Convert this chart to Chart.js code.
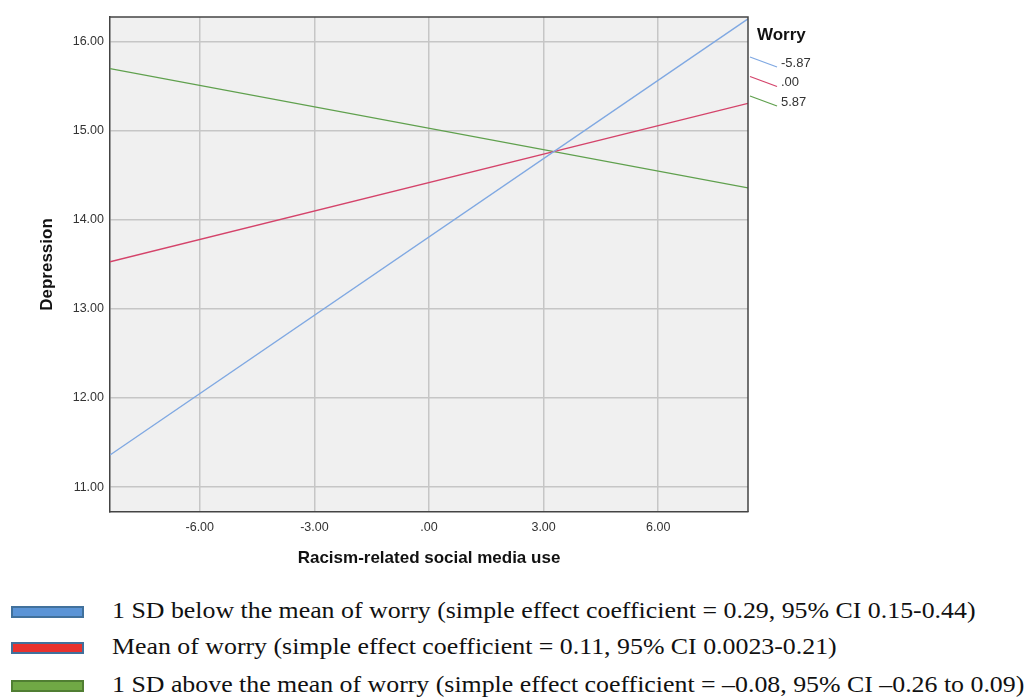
<!DOCTYPE html>
<html>
<head>
<meta charset="utf-8">
<script src="https://cdn.jsdelivr.net/npm/chart.js@4.4.1/dist/chart.umd.min.js"></script>
<style>
  html, body { margin: 0; padding: 0; background: #fff; }
  body { width: 1029px; height: 697px; position: relative; overflow: hidden; }
  #wrap { position: absolute; left: 0; top: 0; width: 1029px; height: 580px; }
  .key { position: absolute; left: 0; font-family: "Liberation Serif", "Times New Roman", serif; font-size: 24px; color: #111; white-space: nowrap; }
  .key .sw { position: absolute; left: 11px; width: 69px; height: 8px; border: 2px solid #41719c; }
  .key .txt { position: absolute; left: 112px; top: -15px; transform: scaleX(1.077); transform-origin: left center; }
</style>
</head>
<body>
<div id="wrap"><canvas id="chart" width="1029" height="580"></canvas></div>
<div id="keys"></div>
<script>
// x range of the fitted lines (racism-related social media use)
const xRange = [-8.35, 8.35];
// predicted depression at each end of the x range, one array per worry level
const lowWorry = [11.36, 16.26];
const meanWorry = [13.53, 15.31];
const highWorry = [15.70, 14.36];
const worryLevels = ['-5.87', '.00', '5.87'];
const lineColors = ['#7fa8e2', '#d4436a', '#5fa04d'];
const xTicks = [-6, -3, 0, 3, 6];
const yTicks = [11, 12, 13, 14, 15, 16];
const yRange = [10.72, 16.28];

const keyTexts = [
    '1 SD below the mean of worry (simple effect coefficient = 0.29, 95% CI 0.15-0.44)',
    'Mean of worry (simple effect coefficient = 0.11, 95% CI 0.0023-0.21)',
    '1 SD above the mean of worry (simple effect coefficient = \u20130.08, 95% CI \u20130.26 to 0.09)'
];
const keyFills = ['#5b94d6', '#e8322e', '#70a845'];
const keyBorders = ['#41719c', '#41719c', '#507e32'];

function fmt(v) {
    return v === 0 ? '.00' : v.toFixed(2);
}

// Plot background + top/right frame
const plotFrame = {
    id: 'plotFrame',
    beforeDraw(chart) {
        const a = chart.chartArea, c = chart.ctx;
        c.save();
        c.fillStyle = '#f0f0f0';
        c.fillRect(a.left, a.top, a.right - a.left, a.bottom - a.top);
        c.restore();
    },
    afterDatasetsDraw(chart) {
        const a = chart.chartArea, c = chart.ctx;
        c.save();
        c.strokeStyle = '#444';
        c.lineWidth = 1.5;
        c.beginPath();
        c.moveTo(a.left, a.top);
        c.lineTo(a.right, a.top);
        c.lineTo(a.right, a.bottom);
        c.stroke();
        c.restore();
    }
};

// SPSS-style legend to the right of the plot
const worryLegend = {
    id: 'worryLegend',
    afterDraw(chart) {
        const a = chart.chartArea, c = chart.ctx;
        const x0 = a.right + 2;
        c.save();
        c.fillStyle = '#111';
        c.font = 'bold 17px "Liberation Sans", Arial, sans-serif';
        c.textBaseline = 'middle';
        c.fillText('Worry', x0 + 7, 35);
        c.font = '13px "Liberation Sans", Arial, sans-serif';
        chart.data.datasets.forEach((ds, i) => {
            const y = 62 + i * 19.5;
            c.strokeStyle = ds.borderColor;
            c.lineWidth = 1.3;
            c.beginPath();
            c.moveTo(x0, y - 5);
            c.lineTo(x0 + 27, y + 5);
            c.stroke();
            c.fillStyle = '#333';
            c.fillText(ds.label, x0 + 31, y + 1);
        });
        c.restore();
    }
};

const series = [lowWorry, meanWorry, highWorry];

new Chart(document.getElementById('chart'), {
    type: 'line',
    data: {
        datasets: series.map((vals, i) => ({
            label: worryLevels[i],
            data: vals.map((v, j) => ({ x: xRange[j], y: v })),
            borderColor: lineColors[i],
            borderWidth: 1.4,
            pointRadius: 0,
            fill: false,
            tension: 0
        }))
    },
    options: {
        responsive: false,
        animation: false,
        layout: { padding: { left: 0, right: 281, top: 17, bottom: 0 } },
        plugins: {
            legend: { display: false },
            tooltip: { enabled: false }
        },
        scales: {
            x: {
                type: 'linear',
                min: xRange[0],
                max: xRange[1],
                afterBuildTicks: axis => { axis.ticks = xTicks.map(v => ({ value: v })); },
                afterFit: axis => { axis.height = 68; },
                grid: { color: '#c6c6c6', lineWidth: 1.5, drawTicks: false },
                border: { display: true, color: '#444', width: 1.5 },
                ticks: {
                    color: '#333',
                    padding: 8,
                    maxRotation: 0,
                    font: { family: '"Liberation Sans", Arial, sans-serif', size: 12.5 },
                    callback: v => fmt(v)
                },
                title: {
                    display: true,
                    text: 'Racism-related social media use',
                    color: '#111',
                    font: { family: '"Liberation Sans", Arial, sans-serif', size: 17, weight: 'bold' },
                    padding: { top: 0, bottom: 11 }
                }
            },
            y: {
                min: yRange[0],
                max: yRange[1],
                afterBuildTicks: axis => { axis.ticks = yTicks.map(v => ({ value: v })); },
                afterFit: axis => { axis.width = 110; },
                grid: { color: '#c6c6c6', lineWidth: 1.5, drawTicks: false },
                border: { display: true, color: '#444', width: 1.5 },
                ticks: {
                    color: '#333',
                    padding: 6,
                    font: { family: '"Liberation Sans", Arial, sans-serif', size: 12.5 },
                    callback: v => fmt(v)
                },
                title: {
                    display: true,
                    text: 'Depression',
                    color: '#111',
                    font: { family: '"Liberation Sans", Arial, sans-serif', size: 17, weight: 'bold' },
                    padding: { top: 37, bottom: 0 }
                }
            }
        }
    },
    plugins: [plotFrame, worryLegend]
});

// Key below the chart
const keys = document.getElementById('keys');
const keyRows = [612, 648, 686];
keyTexts.forEach((t, i) => {
    const row = document.createElement('div');
    row.className = 'key';
    row.style.top = keyRows[i] + 'px';
    const sw = document.createElement('div');
    sw.className = 'sw';
    sw.style.top = '-6px';
    sw.style.background = keyFills[i];
    sw.style.borderColor = keyBorders[i];
    const tx = document.createElement('div');
    tx.className = 'txt';
    tx.textContent = t;
    row.appendChild(sw);
    row.appendChild(tx);
    keys.appendChild(row);
});
</script>
</body>
</html>
